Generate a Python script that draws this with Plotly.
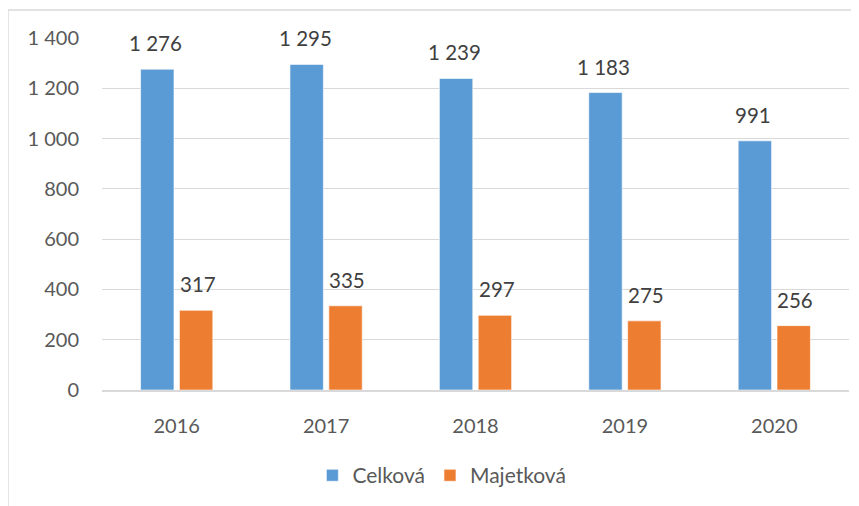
import plotly.graph_objects as go

years = ["2016", "2017", "2018", "2019", "2020"]
celkova = [1276, 1295, 1239, 1183, 991]
majetkova = [317, 335, 297, 275, 256]
series_names = ["Celková", "Majetková"]
colors = ["#5B9BD5", "#ED7D31"]
ytick_vals = [0, 200, 400, 600, 800, 1000, 1200, 1400]
ytick_text = ["0", "200", "400", "600", "800", "1 000", "1 200", "1 400"]

FONT = "Lato, 'Open Sans', sans-serif"
TXT = "#595959"

fig = go.Figure()
for name, vals, col in zip(series_names, [celkova, majetkova], colors):
    fig.add_trace(go.Bar(
        x=years, y=vals, name=name,
        marker=dict(color=col, line=dict(color="white", width=0.6)),
    ))

# data labels (category index positions)
for i, vals in enumerate([celkova, majetkova]):
    shift = -21 if i == 0 else 21
    for idx, v in enumerate(vals):
        fig.add_annotation(
            x=idx, y=v, text=f"{v:,}".replace(",", " "),
            showarrow=False, xshift=shift, yshift=12, yanchor="bottom",
            font=dict(family=FONT, size=20.5, color="#404040"),
        )

fig.update_layout(
    width=851, height=498,
    margin=dict(l=94, r=10, t=30, b=108),
    paper_bgcolor="white", plot_bgcolor="white",
    barmode="group", bargap=0.48, bargroupgap=0.14,
    font=dict(family=FONT, size=20, color=TXT),
    showlegend=True,
    legend=dict(orientation="h", x=0.455, xanchor="center", y=-0.185, yanchor="top",
                font=dict(family=FONT, size=21, color=TXT),
                traceorder="normal"),
    xaxis=dict(type="category", range=[-0.5, 4.5], showgrid=False, showline=True,
               linecolor="#D9D9D9", linewidth=1.5, ticks="outside", ticklen=17,
               tickcolor="rgba(0,0,0,0)", tickfont=dict(size=20, color=TXT)),
    yaxis=dict(range=[0, 1400], tickmode="array", tickvals=ytick_vals, ticktext=ytick_text,
               showgrid=True, gridcolor="#D9D9D9", gridwidth=1.3, zeroline=False,
               showline=False, ticks="outside", ticklen=18, tickcolor="rgba(0,0,0,0)",
               tickfont=dict(size=20, color=TXT)),
)

# chart border (left and top, cut off at right/bottom)
fig.add_shape(type="line", xref="paper", yref="paper",
              x0=-0.1258, x1=-0.1258, y0=-0.35, y1=1.0795,
              line=dict(color="#D9D9D9", width=1.3))
fig.add_shape(type="line", xref="paper", yref="paper",
              x0=-0.1258, x1=1.05, y0=1.0795, y1=1.0795,
              line=dict(color="#D9D9D9", width=1.3))

fig.write_html("out.html")
